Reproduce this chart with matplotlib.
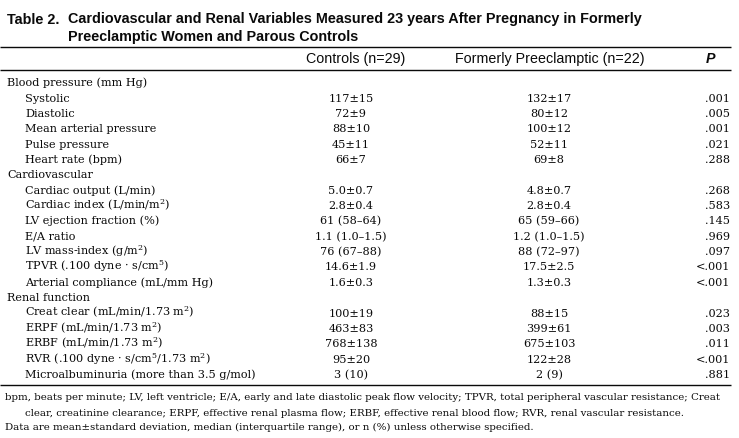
import matplotlib
matplotlib.use('Agg')
import matplotlib.pyplot as plt

plt.rcParams['mathtext.fontset'] = 'dejavuserif'

title_lines = ["Cardiovascular and Renal Variables Measured 23 years After Pregnancy in Formerly",
               "Preeclamptic Women and Parous Controls"]
col_heads = ["Controls (n=29)", "Formerly Preeclamptic (n=22)", "P"]

row_labels = [
    "Blood pressure (mm Hg)", "Systolic", "Diastolic", "Mean arterial pressure",
    "Pulse pressure", "Heart rate (bpm)",
    "Cardiovascular", "Cardiac output (L/min)", r"Cardiac index (L/min/m$^2$)",
    "LV ejection fraction (%)", "E/A ratio", r"LV mass-index (g/m$^2$)",
    r"TPVR (.100 dyne · s/cm$^5$)", "Arterial compliance (mL/mm Hg)",
    "Renal function", r"Creat clear (mL/min/1.73 m$^2$)", r"ERPF (mL/min/1.73 m$^2$)",
    r"ERBF (mL/min/1.73 m$^2$)", r"RVR (.100 dyne · s/cm$^5$/1.73 m$^2$)",
    "Microalbuminuria (more than 3.5 g/mol)",
]
row_indent = [0, 1, 1, 1, 1, 1, 0, 1, 1, 1, 1, 1, 1, 1, 0, 1, 1, 1, 1, 1]
controls = ["", "117±15", "72±9", "88±10", "45±11", "66±7",
            "", "5.0±0.7", "2.8±0.4", "61 (58–64)", "1.1 (1.0–1.5)", "76 (67–88)",
            "14.6±1.9", "1.6±0.3",
            "", "100±19", "463±83", "768±138", "95±20", "3 (10)"]
formerly = ["", "132±17", "80±12", "100±12", "52±11", "69±8",
            "", "4.8±0.7", "2.8±0.4", "65 (59–66)", "1.2 (1.0–1.5)", "88 (72–97)",
            "17.5±2.5", "1.3±0.3",
            "", "88±15", "399±61", "675±103", "122±28", "2 (9)"]
p_values = ["", ".001", ".005", ".001", ".021", ".288",
            "", ".268", ".583", ".145", ".969", ".097",
            "<.001", "<.001",
            "", ".023", ".003", ".011", "<.001", ".881"]

footnotes = [
    "bpm, beats per minute; LV, left ventricle; E/A, early and late diastolic peak flow velocity; TPVR, total peripheral vascular resistance; Creat",
    "clear, creatinine clearance; ERPF, effective renal plasma flow; ERBF, effective renal blood flow; RVR, renal vascular resistance.",
    "Data are mean±standard deviation, median (interquartile range), or n (%) unless otherwise specified.",
]

W, H = 739, 438
fig = plt.figure(figsize=(W / 100, H / 100), dpi=100)
ax = fig.add_axes([0, 0, 1, 1])
ax.set_xlim(0, W)
ax.set_ylim(H, 0)
ax.axis('off')

sans = 'Liberation Sans'
serif = 'DejaVu Serif'
ink = '#0a0a0a'

# title
ax.text(7, 23.5, "Table 2.", family=sans, weight='bold', fontsize=10.4, color=ink)
ax.text(68, 23.5, title_lines[0], family=sans, weight='bold', fontsize=10.35, color=ink)
ax.text(68, 40.5, title_lines[1], family=sans, weight='bold', fontsize=10.35, color=ink)

# rules
for y in (46.8, 70.2, 385.2):
    ax.plot([0, 731], [y, y], color=ink, lw=1.0, solid_capstyle='butt')

# header
ax.text(356, 63, col_heads[0], family=sans, fontsize=10.3, ha='center', color=ink)
ax.text(550, 63, col_heads[1], family=sans, fontsize=10.3, ha='center', color=ink)
ax.text(711, 63, col_heads[2], family=sans, fontsize=10.3, ha='center',
        weight='bold', style='italic', color=ink)

# body
x_ctrl, x_form, x_p = 351, 549, 730
fs = 8.1
for i, lab in enumerate(row_labels):
    yb = 86.3 + 15.35 * i
    ax.text(7 + 18 * row_indent[i], yb, lab, family=serif, fontsize=fs, color=ink)
    ax.text(x_ctrl, yb, controls[i], family=serif, fontsize=fs, ha='center', color=ink)
    ax.text(x_form, yb, formerly[i], family=serif, fontsize=fs, ha='center', color=ink)
    ax.text(x_p, yb, p_values[i], family=serif, fontsize=fs, ha='right', color=ink)

# footnotes
for j, line in enumerate(footnotes):
    ax.text(5 + (20 if j == 1 else 0), 400.5 + 15 * j, line, family=serif,
            fontsize=7.42, color=ink)

fig.savefig('out.png', dpi=100)
